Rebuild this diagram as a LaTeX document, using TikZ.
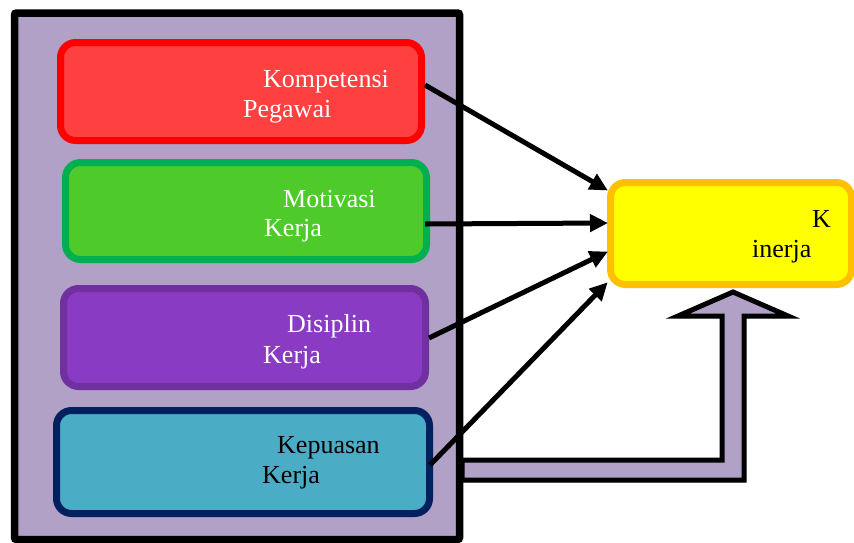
\documentclass[tikz,border=0pt]{standalone}
\usepackage{fontspec}
\setmainfont{Liberation Serif}
\usetikzlibrary{arrows.meta,shadows}
\definecolor{lav}{RGB}{177,161,199}
\definecolor{redfill}{RGB}{255,64,64}
\definecolor{redline}{RGB}{255,0,0}
\definecolor{grnfill}{RGB}{78,203,43}
\definecolor{grnline}{RGB}{0,176,80}
\definecolor{purfill}{RGB}{138,59,196}
\definecolor{purline}{RGB}{112,48,160}
\definecolor{cyfill}{RGB}{75,172,198}
\definecolor{cyline}{RGB}{0,32,96}
\definecolor{yelfill}{RGB}{255,255,0}
\definecolor{yelline}{RGB}{255,192,0}
\tikzset{
  varbox/.style={draw, line width=7pt, rounded corners=15pt, inner sep=0pt,
     drop shadow={opacity=0.25, shadow xshift=1.5pt, shadow yshift=-2.5pt}},
  lbl/.style={anchor=base west, inner sep=0pt, font=\fontsize{26}{30}\selectfont},
  conn/.style={line width=5pt, -{Triangle[length=18pt,width=17pt]}, shorten >=-1pt}
}
\begin{document}
\begin{tikzpicture}[x=1pt,y=-1pt]
\useasboundingbox (0,0) rectangle (854,542);
% outer container
\draw[line width=7.5pt, fill=lav, rounded corners=2pt] (14.5,13) rectangle (459.5,539.5);
% variable boxes
\node[varbox, fill=redfill, draw=redline, minimum width=361pt, minimum height=98pt] (r) at (241,91.5) {};
\node[varbox, fill=grnfill, draw=grnline, minimum width=361pt, minimum height=97pt] (g) at (246,211) {};
\node[varbox, fill=purfill, draw=purline, minimum width=362pt, minimum height=98pt] (p) at (244.5,337.5) {};
\node[varbox, fill=cyfill, draw=cyline, minimum width=373pt, minimum height=103pt] (c) at (243,462) {};
\node[varbox, fill=yelfill, draw=yelline, minimum width=241pt, minimum height=102pt] (k) at (731,233.5) {};
% labels
\node[lbl, text=white] (r1) at (263,87) {Kompetensi};
\node[lbl, text=white] (r2) at (243,117) {Pegawai};
\node[lbl, text=white] (g1) at (283,207) {Motivasi};
\node[lbl, text=white] (g2) at (264,236) {Kerja};
\node[lbl, text=white] (p1) at (287,332) {Disiplin};
\node[lbl, text=white] (p2) at (263,363) {Kerja};
\node[lbl, text=black] (c1) at (277,453) {Kepuasan};
\node[lbl, text=black] (c2) at (262,483) {Kerja};
\node[lbl, text=black] (k1) at (812,227) {K};
\node[lbl, text=black] (k2) at (752,257) {inerja};
% connectors
\draw[conn] ([yshift=6.5pt]r.east) -- ([yshift=43.5pt]k.west);
\draw[conn] ([xshift=-5pt,yshift=-13pt]g.east) -- ([yshift=10.5pt]k.west);
\draw[conn] ([yshift=-0.5pt]p.east) -- ([yshift=-18.5pt]k.west);
\draw[conn] ([xshift=-3pt,yshift=-3pt]c.east) -- ([yshift=-49.5pt]k.west);
% bent block arrow
\coordinate (ba0) at (462,460);
\draw[line width=5pt, fill=lav, line join=miter,
      drop shadow={opacity=0.3, shadow xshift=2pt, shadow yshift=-2.5pt}]
  (ba0) -- (722,460) -- (722,316) -- (678,316) -- (733,292) -- (788,316)
  -- (744,316) -- (744,480) -- (462,480) -- cycle;
\end{tikzpicture}
\end{document}
